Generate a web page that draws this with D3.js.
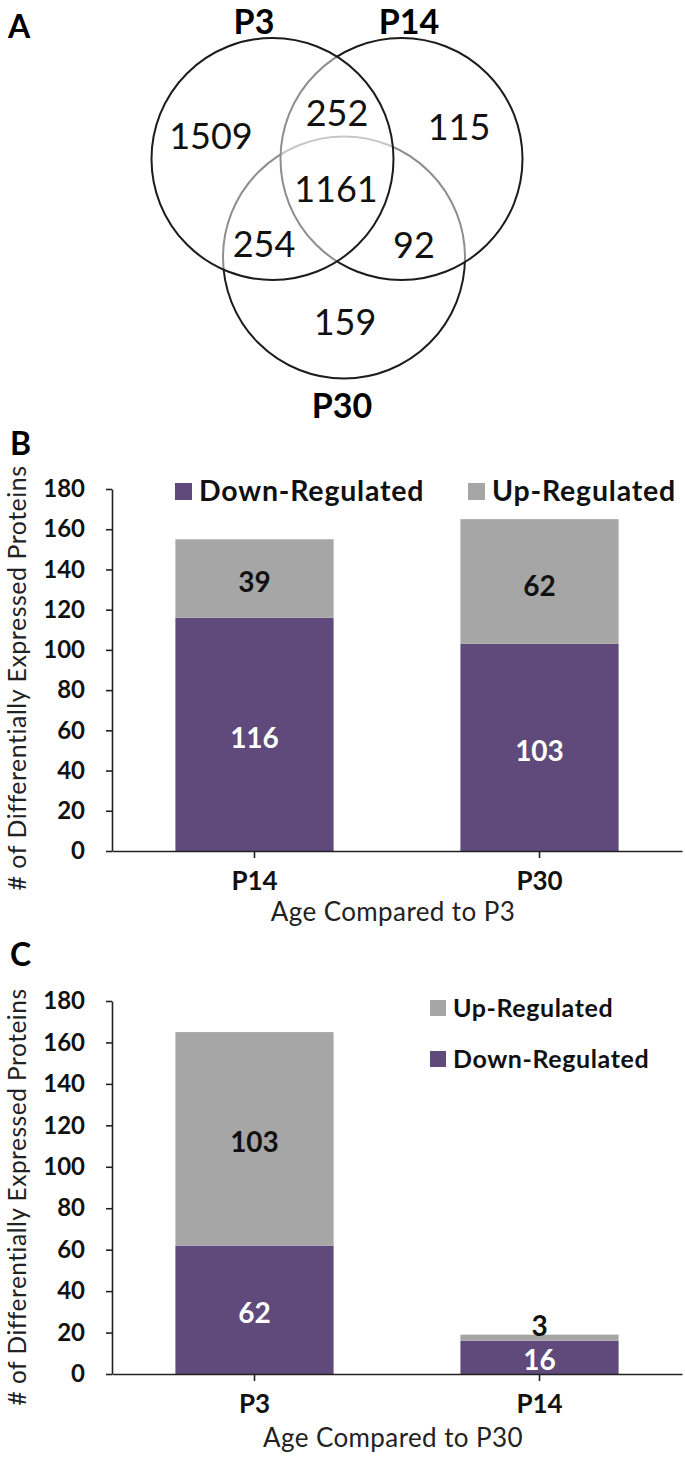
<!DOCTYPE html>
<html>
<head>
<meta charset="utf-8">
<script src="https://cdnjs.cloudflare.com/ajax/libs/d3/7.8.5/d3.min.js"></script>
<style>
body{margin:0;background:#fff;}
svg{display:block;font-family:Lato, "Open Sans", sans-serif;}
</style>
</head>
<body>
<div class="fig"></div>
<script>
// Venn counts (panel A)
var vennSets=["P3","P14","P30"];
var vennRegions=["P3 only","P3∩P14","P14 only","all","P3∩P30","P14∩P30","P30 only"];
var vennCounts=[1509,252,115,1161,254,92,159];

// panel B: compared to P3
var ageB=["P14","P30"];
var downB=[116,103];
var upB=[39,62];

// panel C: compared to P30
var ageC=["P3","P14"];
var downC=[62,16];
var upC=[103,3];

var yTicks=[0,20,40,60,80,100,120,140,160,180];
var seriesNames=["Down-Regulated","Up-Regulated"];
var colors={"Down-Regulated":"#604a7b","Up-Regulated":"#a6a6a6"};

var W=685, H=1457;
var canvas=d3.select(".fig").append("svg")
  .attr("width",W)
  .attr("height",H);

// panel letters
canvas.selectAll("text.letter")
  .data([["A",8,38],["B",10,455],["C",10,966]])
  .enter().append("text")
  .attr("class","letter")
  .attr("x",function(d){return d[1]})
  .attr("y",function(d){return d[2]})
  .attr("font-size",32).attr("font-weight",700)
  .text(function(d){return d[0]});

//---------------- Venn ----------------
var r=121;
var circ={P3:[272.5,159], P14:[401.5,159], P30:[344,257.5]};
var titlePos={P3:[254,34], P14:[409,34], P30:[342,418]};
var regionPos=[[211,136],[337,113],[459,127],[336,189],[264,244],[414,245],[345,322]];

var venn=canvas.append("g").attr("class","venn");
// draw bottom to top so lower outlines get washed out under the upper ones
venn.selectAll("circle")
  .data(vennSets.slice().reverse())
  .enter().append("circle")
  .attr("cx",function(d){return circ[d][0]})
  .attr("cy",function(d){return circ[d][1]})
  .attr("r",r)
  .attr("fill","#fff").attr("fill-opacity",0.5)
  .attr("stroke","#1c1c1c").attr("stroke-width",2);

venn.selectAll("text.set")
  .data(vennSets)
  .enter().append("text")
  .attr("class","set")
  .attr("x",function(d){return titlePos[d][0]})
  .attr("y",function(d){return titlePos[d][1]})
  .attr("text-anchor","middle")
  .attr("font-size",34).attr("font-weight",700)
  .text(function(d){return d});

venn.selectAll("text.count")
  .data(vennCounts)
  .enter().append("text")
  .attr("class","count")
  .attr("x",function(d,i){return regionPos[i][0]})
  .attr("y",function(d,i){return regionPos[i][1]+13})
  .attr("text-anchor","middle")
  .attr("font-size",36)
  .attr("fill","#111")
  .text(function(d){return d});

//---------------- stacked bars ----------------
function plotBars(opt){
  var rows=opt.cats.map(function(c,i){
    return {age:c, "Down-Regulated":opt.down[i], "Up-Regulated":opt.up[i]};
  });
  var stack=d3.stack().keys(seriesNames)(rows);

  var yScale=d3.scaleLinear().domain([0,180]).range([opt.y0,opt.y1]);
  var xScale=d3.scaleBand().domain(opt.cats)
    .range([112,682]).paddingInner(0.445).paddingOuter(0.2225);

  var g=canvas.append("g");

  g.selectAll("g.series")
    .data(stack)
    .enter().append("g")
    .attr("fill",function(d){return colors[d.key]})
    .selectAll("rect")
    .data(function(d){return d})
    .enter().append("rect")
    .attr("x",function(d){return xScale(d.data.age)})
    .attr("width",xScale.bandwidth())
    .attr("y",function(d){return yScale(d[1])})
    .attr("height",function(d){return yScale(d[0])-yScale(d[1])});

  // value labels
  stack.forEach(function(s){
    g.selectAll(null)
      .data(s)
      .enter().append("text")
      .attr("x",function(d){return xScale(d.data.age)+xScale.bandwidth()/2})
      .attr("y",function(d){
        var h=yScale(d[0])-yScale(d[1]);
        if(h<20){return yScale(d[1])+1}
        return (yScale(d[0])+yScale(d[1]))/2+opt.lab;
      })
      .attr("text-anchor","middle")
      .attr("font-size",28).attr("font-weight",700)
      .attr("fill",function(d){
        var h=yScale(d[0])-yScale(d[1]);
        return (s.key=="Down-Regulated" && h>=20)?"#fff":"#111";
      })
      .text(function(d){return d[1]-d[0]});
  });

  // axes
  var ya=g.append("g")
    .attr("transform","translate(112,0)")
    .call(d3.axisLeft(yScale).tickValues(yTicks).tickSize(6).tickSizeOuter(0).tickPadding(21));
  ya.selectAll("text").attr("font-size",24).attr("font-weight",700).attr("fill","#111")
    .attr("font-family","Lato, sans-serif");

  var xa=g.append("g")
    .attr("transform","translate(0,"+opt.y0+")")
    .call(d3.axisBottom(xScale).tickSize(7).tickSizeOuter(0).tickPadding(opt.catPad));
  xa.selectAll("text").attr("font-size",26).attr("font-weight",700).attr("fill","#111")
    .attr("font-family","Lato, sans-serif");

  g.selectAll(".domain, .tick line").attr("stroke","#222").attr("stroke-width",1.6);

  // titles
  g.append("text")
    .attr("transform","translate(26,"+opt.ytc+") rotate(-90)")
    .attr("text-anchor","middle")
    .attr("font-size",opt.ytfs).attr("letter-spacing",0.5).attr("fill","#222")
    .text("# of Differentially Expressed Proteins");

  g.append("text")
    .attr("x",393).attr("y",opt.xtb)
    .attr("text-anchor","middle")
    .attr("font-size",26).attr("letter-spacing",0.4).attr("fill","#222")
    .text(opt.xTitle);

  // legend
  var lg=g.selectAll("g.leg")
    .data(opt.legend)
    .enter().append("g")
    .attr("transform",function(d){return "translate("+d.x+","+d.y+")"});
  lg.append("rect")
    .attr("width",opt.sq).attr("height",opt.sq)
    .attr("y",-opt.sq-1)
    .attr("fill",function(d){return colors[d.name]});
  lg.append("text")
    .attr("x",opt.sq+7)
    .attr("font-size",opt.lfs).attr("font-weight",700)
    .attr("letter-spacing",opt.lls).attr("fill","#111")
    .text(function(d){return d.name});
}

plotBars({
  cats:ageB, down:downB, up:upB,
  y0:851, y1:489, lab:14, catPad:14,
  ytc:678, ytfs:25, xtb:921, xTitle:"Age Compared to P3",
  sq:17, lfs:28.5, lls:0.8,
  legend:[{name:"Down-Regulated",x:175,y:501},{name:"Up-Regulated",x:468,y:501}]
});

plotBars({
  cats:ageC, down:downC, up:upC,
  y0:1374, y1:1001, lab:13, catPad:14,
  ytc:1197, ytfs:24.5, xtb:1447, xTitle:"Age Compared to P30",
  sq:16, lfs:25, lls:0.6,
  legend:[{name:"Up-Regulated",x:430,y:1017},{name:"Down-Regulated",x:430,y:1068}]
});
</script>
</body>
</html>
